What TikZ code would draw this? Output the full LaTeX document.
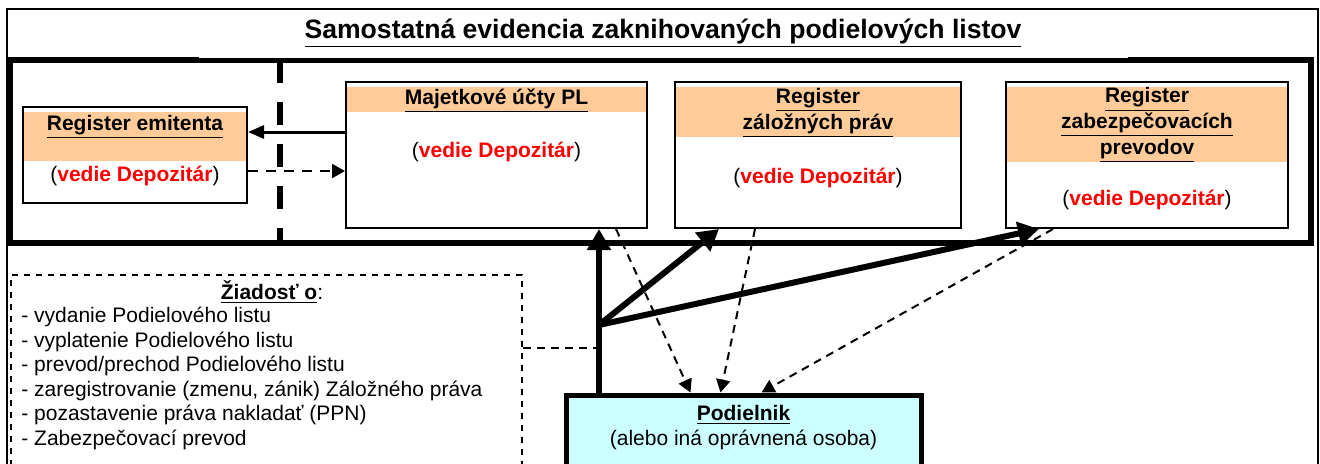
\documentclass[tikz,border=0pt]{standalone}
\usepackage{fontspec}
\setmainfont{Liberation Sans}
\usetikzlibrary{arrows.meta,positioning}
\definecolor{hdrorange}{HTML}{FFCC99}
\definecolor{podcyan}{HTML}{CCFFFF}
\newcommand\vedie{(\textcolor{red}{\textbf{vedie Depozitár}})}

\begin{document}
\begin{tikzpicture}[x=0.5pt,y=-0.5pt,
  regbox/.style={draw, line width=1pt, inner sep=0pt},
  hd/.style={font=\fontsize{10.5}{12.8}\selectfont\bfseries, align=center, inner sep=0pt},
  txt/.style={font=\fontsize{10.5}{12.3}\selectfont, inner sep=0pt},
  thickarr/.style={line width=3pt, -{Triangle[length=10.5pt,width=11.5pt]}},
  thinarr/.style={line width=1.5pt, -{Triangle[length=8pt,width=6.5pt]}},
  dasharr/.style={line width=1pt, dash pattern=on 4pt off 3pt, -{Triangle[length=6.5pt,width=7pt]}}]
\useasboundingbox (0,0) rectangle (1320,463);
\clip (0,0) rectangle (1320,463);
\draw[line width=3pt] (10,60) rectangle (1311,243);
\fill[white] (199,11) rectangle (1128,58);
\draw[line width=1pt] (7,9) rectangle (1318,600);
\draw[line width=3pt, dash pattern=on 11.5pt off 9.5pt] (280,60) -- (280,243);
\node[font=\fontsize{13.3}{16}\selectfont\bfseries, inner sep=0pt] (title) at (663,33) {\underline{Samostatná evidencia zaknihovaných podielových listov}};

\node[regbox, minimum width=112pt, minimum height=48pt] (emit) at (135,155) {};
\fill[hdrorange] (24,112) rectangle (246,161);
\node[hd] (emit-h) at (135,127) {\underline{Register emitenta}};
\node[txt] (emit-v) at (135,176) {\vedie};

\node[regbox, minimum width=150.5pt, minimum height=73pt] (ucty) at (496.5,155) {};
\fill[hdrorange] (347,87) rectangle (646,112);
\node[hd] (ucty-h) at (496.5,101) {\underline{Majetkové účty PL}};
\node[txt] (ucty-v) at (496.5,152) {\vedie};

\node[regbox, minimum width=143pt, minimum height=73pt] (zal) at (818,155) {};
\fill[hdrorange] (676,87) rectangle (960,137);
\node[hd] (zal-h) at (818,113) {\underline{Register}\\\underline{záložných práv}};
\node[txt] (zal-v) at (818,178) {\vedie};

\node[regbox, minimum width=141pt, minimum height=73pt] (zab) at (1147,155) {};
\fill[hdrorange] (1007,87) rectangle (1287,162);
\node[hd] (zab-h) at (1147,125) {\underline{Register}\\\underline{zabezpečovacích}\\\underline{prevodov}};
\node[txt] (zab-v) at (1147,200) {\vedie};

\node[draw, line width=1pt, dash pattern=on 3pt off 3pt, minimum width=255.5pt, minimum height=122.5pt] (ziad) at (266.5,397.5) {};
\node[txt] (ziad-h) at (272,292) {\underline{\textbf{Žiadosť o}}:};
\node[txt, align=left, anchor=west] (ziad-l) at (21,378.5) {- vydanie Podielového listu\\- vyplatenie Podielového listu\\- prevod/prechod Podielového listu\\- zaregistrovanie (zmenu, zánik) Záložného práva\\- pozastavenie práva nakladať (PPN)\\- Zabezpečovací prevod};

\node[draw, line width=2.5pt, fill=podcyan, minimum width=177.5pt, minimum height=62.5pt] (podiel) at (743.5,457.5) {};
\node[txt] (podiel-h) at (743.5,415) {\underline{\textbf{Podielnik}}};
\node[txt] (podiel-o) at (743.5,440) {(alebo iná oprávnená osoba)};

\coordinate (br) at (599,325);
\coordinate (jn) at (599,348);
\draw[thinarr] ([yshift=11.5pt]ucty.west) -- ([yshift=11.5pt]emit.east);
\draw[dasharr, dash pattern=on 5pt off 4pt] ([yshift=-8pt]emit.east) -- ([yshift=-8pt]ucty.west);
\draw[line width=1pt, dash pattern=on 4pt off 3pt] (jn -| ziad.east) -- (jn);
\draw[thickarr] (podiel.north -| br) -- (ucty.south -| br);
\draw[thickarr] (br) -- ([xshift=22.5pt]zal.south west);
\draw[thickarr] (br) -- ([xshift=17pt]zab.south west);
\draw[dasharr] ([xshift=-16pt]ucty.south east) -- ([xshift=63.5pt]podiel.north west);
\draw[dasharr] ([xshift=40.5pt]zal.south west) -- ([xshift=78.5pt]podiel.north west);
\draw[dasharr] ([xshift=24pt]zab.south west) -- ([xshift=99pt]podiel.north west);
\end{tikzpicture}
\end{document}
